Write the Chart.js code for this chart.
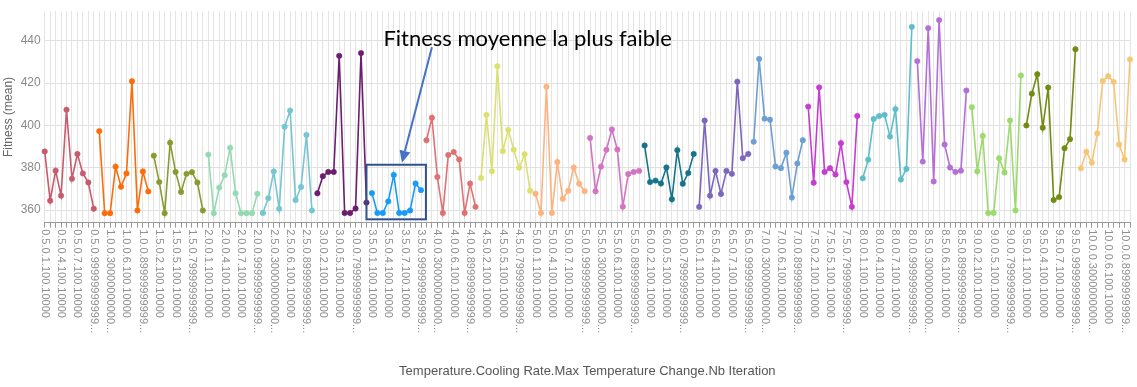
<!DOCTYPE html>
<html>
<head>
<meta charset="utf-8">
<script src="https://cdn.jsdelivr.net/npm/chart.js@4.4.0/dist/chart.umd.min.js"></script>
<style>
  html, body { margin: 0; padding: 0; background: #fff; }
  #wrap { width: 1137px; height: 387px; }
</style>
</head>
<body>
<div id="wrap"><canvas id="fitnessChart"></canvas></div>
<script>
// Categories: Temperature.Cooling Rate.Max Temperature Change.Nb Iteration
const temperatures = ['0.5', '1.0', '1.5', '2.0', '2.5', '3.0', '3.5', '4.0', '4.5', '5.0',
                      '5.5', '6.0', '6.5', '7.0', '7.5', '8.0', '8.5', '9.0', '9.5', '10.0'];
const coolingRates = ['0.1', '0.2', '0.30000000000000004', '0.4', '0.5', '0.6', '0.7',
                      '0.7999999999999999', '0.8999999999999999', '0.9999999999999999'];
const maxTempChange = '100';
const nbIteration = '10000';

// Fitness (mean), one row per temperature, one value per cooling rate
const fitnessMean = [
  [387.7, 364.4, 378.6, 366.8, 407.4, 374.8, 386.5, 377.3, 373.0, 360.6], // 0.5
  [397.3, 358.5, 358.5, 380.5, 371.0, 377.3, 420.9, 359.8, 378.2, 368.8], // 1.0
  [385.7, 373.2, 358.5, 391.8, 378.0, 368.5, 377.1, 377.9, 373.0, 359.8], // 1.5
  [386.2, 358.5, 370.6, 376.4, 389.4, 367.9, 358.5, 358.5, 358.5, 367.7], // 2.0
  [358.6, 365.6, 378.2, 360.6, 399.4, 407.0, 364.7, 370.9, 395.5, 359.8], // 2.5
  [367.9, 376.0, 378.0, 378.0, 432.9, 358.6, 358.6, 360.7, 434.2, 363.5], // 3.0
  [368.0, 358.6, 358.6, 364.1, 376.6, 358.6, 358.6, 359.8, 372.5, 369.4], // 3.5
  [393.0, 403.6, 375.6, 358.6, 386.0, 387.4, 383.9, 358.6, 372.5, 361.5], // 4.0
  [375.1, 405.0, 378.3, 428.0, 387.9, 397.9, 388.5, 380.0, 386.4, 369.1], // 4.5
  [367.7, 358.6, 418.3, 358.6, 382.7, 365.3, 369.1, 380.1, 372.4, 368.9], // 5.0
  [394.1, 368.9, 380.5, 388.5, 398.1, 388.6, 361.6, 377.0, 378.0, 378.5], // 5.5
  [390.5, 373.2, 373.9, 372.5, 380.1, 365.1, 388.3, 372.4, 377.5, 386.5], // 6.0
  [361.5, 402.3, 366.8, 378.5, 367.6, 378.5, 377.1, 420.7, 384.5, 386.5], // 6.5
  [392.3, 431.4, 403.2, 402.7, 380.6, 379.8, 387.1, 365.9, 382.0, 393.0], // 7.0
  [408.9, 372.9, 418.0, 378.0, 379.8, 376.8, 391.6, 373.2, 361.5, 404.5], // 7.5
  [375.0, 383.8, 403.0, 404.4, 405.0, 394.7, 407.7, 374.4, 379.4, 446.6], // 8.0
  [430.4, 382.9, 446.0, 373.5, 449.8, 391.0, 380.1, 378.0, 378.6, 416.5], // 8.5
  [408.6, 378.3, 395.0, 358.6, 358.6, 384.5, 377.7, 402.3, 359.8, 423.6], // 9.0
  [400.0, 415.0, 424.2, 398.9, 417.9, 364.7, 366.1, 389.2, 393.5, 436.0], // 9.5
  [379.7, 387.6, 382.4, 396.2, 421.0, 423.3, 420.6, 391.0, 383.9, 431.2]  // 10.0
];

const yTicks = [360, 380, 400, 420, 440];

// one colour per temperature group
const groupColors = ['#c75b6b', '#fb6d0a', '#8b9a2e', '#94dab1', '#74c6d0', '#6c1d6e', '#169cf8',
                     '#de7171', '#dbe06e', '#fcb37f', '#d174c2', '#15748a', '#7c67bd', '#6d9fd2',
                     '#c63cd1', '#5dbec9', '#b56ed6', '#9cda6c', '#728b12', '#f7c675'];

// build the category labels
const labels = [];
temperatures.forEach(t => {
    coolingRates.forEach(c => labels.push(t + '.' + c + '.' + maxTempChange + '.' + nbIteration));
});

const datasets = temperatures.map((t, g) => ({
    label: t,
    data: coolingRates.map((c, k) => ({ x: labels[g * coolingRates.length + k], y: fitnessMean[g][k] })),
    borderColor: groupColors[g],
    backgroundColor: groupColors[g],
    borderWidth: 1.6,
    pointRadius: 2.7,
    pointBorderWidth: 0.6,
    tension: 0
}));

// x tick labels, written top to bottom and cut with "..." when too long
const labelStep = 3;
const labelMaxWidth = 107;
const rotatedTicks = {
    id: 'rotatedTicks',
    afterDraw(chart) {
        const ctx = chart.ctx;
        const xs = chart.scales.x;
        ctx.save();
        ctx.font = '11px "Liberation Sans", Arial, sans-serif';
        ctx.fillStyle = '#8f8f8f';
        ctx.textAlign = 'left';
        ctx.textBaseline = 'middle';
        labels.forEach((lab, i) => {
            if (i % labelStep !== 0) return;
            let txt = lab;
            if (ctx.measureText(txt).width > labelMaxWidth) {
                while (txt.length > 1 && ctx.measureText(txt + '...').width > labelMaxWidth) {
                    txt = txt.slice(0, -1);
                }
                txt += '...';
            }
            ctx.save();
            ctx.translate(xs.getPixelForValue(i), xs.top + 6.5);
            ctx.rotate(Math.PI / 2);
            ctx.fillText(txt, 0, 0);
            ctx.restore();
        });
        ctx.restore();
    }
};

// callout pointing at the lowest-fitness group (positions in scale units)
const note = {
    text: 'Fitness moyenne la plus faible',
    textAt: { x: 62.1, y: 437.4 },
    textWidth: 289,
    box: { x0: 59.0, x1: 69.9, y0: 355.6, y1: 381.4 },
    arrowFrom: { x: 71.0, y: 437.0 },
    arrowTo: { x: 65.5, y: 382.4 }
};
const callout = {
    id: 'callout',
    afterDraw(chart) {
        const ctx = chart.ctx;
        const xs = chart.scales.x, ys = chart.scales.y;
        const px = v => xs.getPixelForValue(v);
        const py = v => ys.getPixelForValue(v);
        ctx.save();
        // box
        ctx.strokeStyle = '#2f528f';
        ctx.lineWidth = 2;
        ctx.strokeRect(px(note.box.x0), py(note.box.y1),
                       px(note.box.x1) - px(note.box.x0), py(note.box.y0) - py(note.box.y1));
        // arrow
        const x1 = px(note.arrowFrom.x), y1 = py(note.arrowFrom.y);
        const x2 = px(note.arrowTo.x), y2 = py(note.arrowTo.y);
        const ang = Math.atan2(y2 - y1, x2 - x1);
        const headLen = 12, headHalf = 5.5;
        const bx = x2 - headLen * Math.cos(ang), by = y2 - headLen * Math.sin(ang);
        ctx.strokeStyle = '#4472c4';
        ctx.fillStyle = '#4472c4';
        ctx.lineWidth = 2;
        ctx.beginPath();
        ctx.moveTo(x1, y1);
        ctx.lineTo(bx, by);
        ctx.stroke();
        ctx.beginPath();
        ctx.moveTo(x2, y2);
        ctx.lineTo(bx + headHalf * Math.sin(ang), by - headHalf * Math.cos(ang));
        ctx.lineTo(bx - headHalf * Math.sin(ang), by + headHalf * Math.cos(ang));
        ctx.closePath();
        ctx.fill();
        // text, sized to the reference width
        ctx.font = '20px Lato, "Open Sans", sans-serif';
        const size = 20 * note.textWidth / ctx.measureText(note.text).width;
        ctx.font = size.toFixed(1) + 'px Lato, "Open Sans", sans-serif';
        ctx.fillStyle = '#000';
        ctx.textAlign = 'left';
        ctx.textBaseline = 'alphabetic';
        ctx.fillText(note.text, px(note.textAt.x), py(note.textAt.y));
        ctx.restore();
    }
};

new Chart(document.getElementById('fitnessChart'), {
    type: 'line',
    data: { labels: labels, datasets: datasets },
    options: {
        responsive: true,
        maintainAspectRatio: false,
        animation: false,
        layout: { padding: { top: 2, right: 7, bottom: 0, left: 0 } },
        plugins: {
            legend: { display: false },
            tooltip: { enabled: false }
        },
        scales: {
            x: {
                type: 'category',
                offset: false,
                ticks: { display: false },
                grid: { color: '#e4e4e4', lineWidth: 1, tickLength: 5, tickColor: '#9a9a9a' },
                border: { display: true, color: '#9a9a9a', width: 1 },
                title: {
                    display: true,
                    text: 'Temperature.Cooling Rate.Max Temperature Change.Nb Iteration',
                    color: '#555',
                    font: { family: '"Liberation Sans", Arial, sans-serif', size: 13 },
                    padding: { top: 0, bottom: 8 }
                },
                afterFit: s => { s.height = 164.3; }
            },
            y: {
                min: 354,
                max: 454,
                afterBuildTicks: s => { s.ticks = yTicks.map(v => ({ value: v })); },
                ticks: {
                    color: '#8a8a8a',
                    padding: 4,
                    font: { family: '"Liberation Sans", Arial, sans-serif', size: 12 }
                },
                grid: { color: '#e1e1e1', lineWidth: 1, drawTicks: false },
                border: { display: false },
                title: {
                    display: true,
                    text: 'Fitness (mean)',
                    color: '#666',
                    font: { family: '"Liberation Sans", Arial, sans-serif', size: 12 },
                    padding: { top: 1, bottom: 0 }
                },
                afterFit: s => { s.width = 44.7; }
            }
        }
    },
    plugins: [rotatedTicks, callout]
});
</script>
</body>
</html>
